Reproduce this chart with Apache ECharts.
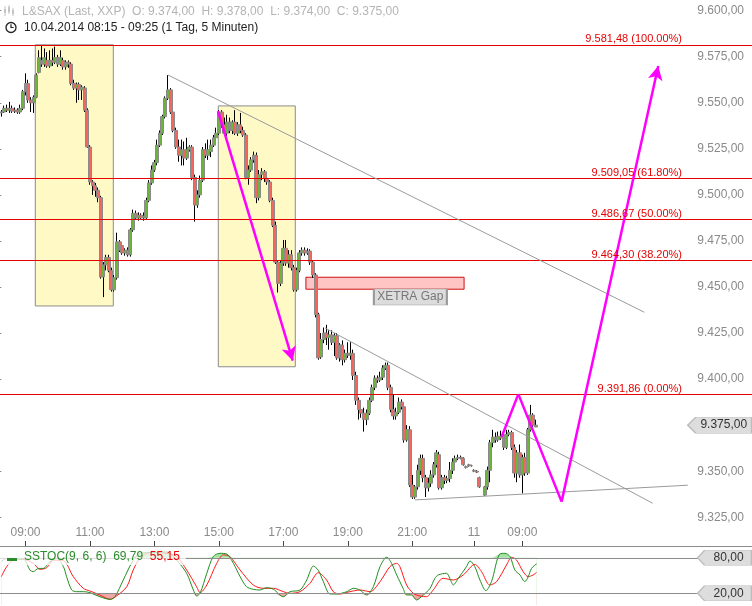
<!DOCTYPE html>
<html><head><meta charset="utf-8">
<script src="https://cdn.jsdelivr.net/npm/echarts@6/dist/echarts.min.js"></script>
<style>html,body{margin:0;padding:0;background:#fff}#c{width:752px;height:606px}</style>
</head><body><div id="c"></div>
<script>
// ---- data: one 5-minute candle per slot, [open, close, low, high] ----
const candles = [
[9544.5,9545,9542.5,9546],[9545,9547,9544.5,9548.5],[9547,9546,9545,9549],[9546,9547,9544.5,9550.5],[9547,9545.5,9544.5,9548.5],
[9545.5,9546,9544.5,9547.5],[9546,9545,9544,9547],[9545,9547,9544,9549],[9547,9556,9546,9557],[9556,9560.5,9554,9566],
[9560.5,9551.5,9550,9562.5],[9551.5,9550,9545,9553],[9550,9553,9544.5,9554],[9553,9565,9552.5,9566],[9566.5,9574.5,9566,9578.5],
[9573,9571,9569.5,9581],[9571,9574.5,9569.5,9579.5],[9573,9570,9569,9577.5],[9570,9573,9569,9578.5],[9573,9572,9570,9579.5],
[9572,9574.5,9571,9580.5],[9574.5,9571,9569.5,9576],[9571,9574.5,9570,9578.5],[9573,9569.5,9568,9574.5],[9569.5,9572,9568,9573],
[9572,9571,9569,9573],[9571,9560.5,9559.5,9572],[9560.5,9558,9557,9562.5],[9558,9560,9550,9561],[9560,9557,9551.5,9561],
[9557,9558.5,9551.5,9559.5],[9558,9546,9545,9559],[9546,9526,9525.5,9547],[9526,9507,9505.5,9527],[9507,9505,9500,9508],
[9505,9502.5,9499,9506.5],[9502.5,9498.5,9496,9504],[9498.5,9455.5,9454.5,9499.5],[9455.5,9462,9444.5,9463.5],[9462,9466,9459,9467.5],
[9466,9459,9458,9467.5],[9459,9448.5,9447.5,9460.5],[9448.5,9455,9447.5,9456.5],[9455,9474.5,9454,9479.5],[9474.5,9470,9469,9475.5],
[9472.5,9468.5,9467.5,9474],[9468.5,9470,9467,9471],[9470,9467.5,9466.5,9471.5],[9467.5,9481,9466.5,9482],[9481,9490,9480,9492],
[9490,9487.5,9486.5,9491.5],[9487.5,9489,9486,9490.5],[9489,9487.5,9486.5,9490],[9487.5,9488.5,9486,9490.5],[9487.5,9497,9486.5,9498.5],
[9497,9506.5,9496,9508],[9506.5,9513.5,9505.5,9516],[9513.5,9517.5,9512.5,9519],[9517.5,9527,9516,9530],[9527,9533.5,9526,9535],
[9533.5,9542.5,9532.5,9543.5],[9542.5,9552.5,9541.5,9553.5],[9552.5,9557,9551.5,9565],[9557,9545,9544,9558],[9545,9535,9534,9546],
[9535,9526,9525,9536.5],[9526,9521.5,9518,9530],[9521.5,9524.5,9516,9530],[9524.5,9520,9516,9529],[9520,9524.5,9519,9531],
[9524.5,9526,9523.5,9527],[9526,9509.5,9508,9527],[9509.5,9494.5,9485.5,9511],[9494.5,9500,9493,9502.5],[9500,9508,9498.5,9510.5],
[9508,9524.5,9507,9526],[9524.5,9521.5,9520,9528],[9521.5,9524.5,9519,9530],[9523.5,9527,9520.5,9530],[9527,9531,9526,9532.5],
[9531,9533.5,9530,9536.5],[9533.5,9545,9532.5,9546],[9545,9538,9536.5,9546],[9538,9533.5,9532.5,9542],[9533.5,9539.5,9532,9543.5],
[9539.5,9535,9533.5,9542],[9535,9539.5,9533,9540.5],[9539.5,9533.5,9532.5,9546],[9533.5,9538,9532,9539.5],[9538,9535,9533.5,9544.5],
[9535,9532.5,9531.5,9537],[9532.5,9509.5,9508.5,9533.5],[9509.5,9513.5,9505.5,9516],[9513.5,9519,9512.5,9520.5],[9519,9521.5,9517.5,9523.5],
[9521.5,9498.5,9495.5,9523],[9498.5,9511,9497,9513.5],[9511,9512.5,9508,9514.5],[9512.5,9509,9507,9513.5],[9509,9507,9505.5,9512.5],
[9507,9497,9496,9508],[9497,9483.5,9482.5,9498.5],[9483.5,9463.5,9462.5,9485.5],[9463.5,9452,9447,9464.5],[9452,9463,9450.5,9464.5],
[9463,9471,9461.5,9475.5],[9471,9463,9461.5,9475.5],[9463,9467.5,9460.5,9470],[9467.5,9460.5,9459,9470],[9460.5,9448.5,9447.5,9462],
[9448.5,9459,9447.5,9460.5],[9459,9468.5,9458,9470],[9468.5,9470,9467,9471.5],[9470,9468.5,9467,9471.5],[9468.5,9469.5,9467.5,9471],
[9469.5,9463.5,9462,9470.5],[9463.5,9456.5,9455,9464.5],[9456.5,9435,9433.5,9457.5],[9435,9411.5,9410.5,9436],[9412,9421.5,9411,9425],
[9421.5,9425,9419.5,9428],[9425,9422.5,9418.5,9429.5],[9422.5,9424,9416,9426.5],[9424,9420,9418.5,9426.5],[9420,9423.5,9412.5,9425],
[9423.5,9411.5,9410.5,9425],[9411.5,9418.5,9409.5,9419.5],[9418.5,9410.5,9407.5,9421],[9410.5,9414,9409,9416],[9414,9413,9411.5,9420],
[9413,9414,9410.5,9420],[9414,9402,9399.5,9416],[9402,9388.5,9386,9404],[9388.5,9383.5,9378,9390],[9383.5,9381.5,9379,9386],
[9381.5,9378,9371.5,9384.5],[9378,9381.5,9375,9383.5],[9381.5,9388.5,9380.5,9390],[9388.5,9395.5,9387.5,9397],[9395.5,9400.5,9394,9402],
[9400.5,9399.5,9398,9402],[9399.5,9401,9398.5,9404],[9401,9406,9399.5,9407.5],[9406,9407.5,9405,9409],[9407.5,9395.5,9394,9409],
[9395.5,9383.5,9382,9397],[9383.5,9380,9378,9391.5],[9380,9382,9378,9384.5],[9382,9387.5,9381,9390],[9387.5,9385,9383.5,9389],
[9385,9367,9365.5,9386.5],[9367,9372.5,9366,9375],[9372.5,9342.5,9341.5,9374.5],[9342.5,9336,9335,9348],[9336,9341.5,9335,9342.5],
[9341.5,9350.5,9340,9353.5],[9350.5,9357,9348,9359],[9357,9346.5,9344,9359],[9346.5,9341,9336,9348],[9341,9343.5,9339,9346.5],
[9343.5,9348,9341.5,9350.5],[9348,9353.5,9346.5,9355],[9353.5,9360,9352,9361.5],[9359,9341,9340,9360.5],[9341,9346.5,9340,9348],
[9346.5,9345,9343,9348],[9345,9346,9343.5,9347.5],[9346,9350.5,9344,9355],[9350.5,9355,9348.5,9357],[9355,9357,9353.5,9358.5],
[9357,9357.5,9356,9359],[9357.5,9357,9356.5,9358.5],[9357,9353.5,9353,9357.5],[9352.5,9352,9351.5,9353],[9353.5,9353,9352.5,9354],
[9353,9353,9352.5,9353.5],[9350.5,9350,9349.5,9351],[9350,9349.5,9349,9350.5],[9346.5,9341.5,9341,9347],null,
[9337,9341.5,9336.5,9342],[9341.5,9350.5,9340,9352.5],[9350.5,9365.5,9344,9367],[9365.5,9368.5,9363,9372.5],[9368.5,9367,9365.5,9371],
[9367,9369,9366,9371.5],[9369,9368,9367,9372],[9369.5,9363,9361.5,9371.5],[9363,9370,9362,9372.5],[9370,9371,9369,9372.5],
[9371,9363,9361.5,9372],[9363,9349,9346.5,9364.5],[9349,9360,9344,9361.5],[9360,9348,9346.5,9364.5],[9348,9357.5,9338,9359],
[9357.5,9349,9347.5,9360],[9349,9372.5,9348,9373.5],[9372.5,9380.5,9371.5,9386],[9380.5,9375,9374,9381.5],[9374,9375,9374,9378]
];
const xTickSlots  = [9, 33, 57, 81, 105, 129, 153, 176, 194];
const xTickLabels = ['09:00','11:00','13:00','15:00','17:00','19:00','21:00','11','09:00'];
const yTickValues = [9325, 9350, 9400, 9425, 9450, 9475, 9500, 9525, 9550, 9575, 9600];
const fibLevels   = [9581.48, 9509.05, 9486.67, 9464.30, 9391.86];
const fibPercents = ['100.00%', '61.80%', '50.00%', '38.20%', '0.00%'];
const lastPrice = 9375;
// slow stochastic (%K green, %D red), [slot, value]
const kLine = [[0,74],[2,79],[4.5,78],[8.2,77.5],[10.7,59],[11.9,56.5],[13.8,62],[15.6,62],[18.1,73.5],[20.6,79],[23.1,65],[24.3,48],[26.2,25.5],[28,22.6],[30.5,22.6],[33,21],[36.7,14],[40.5,9.6],[42.3,14],[45.4,42.4],[49.1,76],[51.6,87.6],[56.6,89],[61.6,90],[65.3,76],[69,53.7],[71.5,25.4],[72.7,15.3],[74,19.8],[76.5,53.7],[78.9,82],[81.4,87.6],[83.9,86.5],[86.4,70.6],[88.9,48],[91.3,31],[93.8,26.6],[96.3,25.4],[98.8,29.4],[101.3,26.6],[105,14],[107.5,22.6],[111.2,25.4],[113.7,42.4],[116.2,66],[118,59],[119.9,39.6],[122.4,18.6],[124.9,18.6],[128.6,22.6],[131.1,28.3],[133.5,25.4],[136,16.9],[138.5,31],[141,65],[143.5,81],[145.3,70.6],[147.2,50.9],[148.4,39.6],[149.6,28],[150.9,17],[152.7,17],[154.6,8.5],[157.1,17],[159.6,28],[161.4,45],[162.7,51],[165.8,53.7],[167,45],[168.3,34],[170.1,45],[173.2,65],[174.5,74.6],[176.3,65],[178.2,42.4],[180.4,24.3],[182.5,39.6],[185.6,86.5],[187.5,87.6],[189.4,82],[191.2,59.3],[193.1,51],[194.9,39.6],[196.2,48],[197.4,62],[199.3,69.79]];
const dLine = [[0,48],[2,65],[4.5,76],[8.2,77.5],[11.9,70.6],[14.4,60.4],[16.9,63.3],[19.4,76],[23.1,75],[26.8,48],[30.5,28.3],[33,23.7],[36.7,16.9],[40.5,9.6],[42.9,15.3],[46.7,31],[49.1,59.3],[51.6,79],[55.3,89],[61.6,87.6],[65.3,82],[69,59.3],[72.7,31],[74,20.9],[76.5,33.9],[80.2,70.6],[82.7,85],[85.1,82],[88.9,59.3],[93.8,33.9],[97.5,28.3],[101.3,28.3],[105,22.6],[107.5,19.8],[111.2,22.6],[114.9,36.7],[118,54.8],[121.1,42.4],[123.6,22.6],[126.1,18.6],[129.8,22.6],[133.5,25.4],[137.3,22.6],[141,39.6],[144.7,65],[147.2,70.6],[148.4,65],[150.9,33.9],[153.4,19.8],[155.8,15.3],[158.3,14.1],[160.8,25.4],[164.5,45.2],[168.3,42.4],[172,50.9],[176.3,68.9],[178.8,56.5],[181.9,33.9],[184.4,39.6],[188.1,67.8],[190,80.9],[191.8,76.3],[194.3,56.5],[196.2,48],[198,50.9],[199.3,55.15]];
const oscLevels = [80, 20];
const kLast = 69.79, dLast = 55.15;
// drawing annotations in data space [slot, price]
const yellowBoxes = [[[12.64, 9581.48], [41.69, 9439.7]], [[80.78, 9548.3], [109.45, 9406.7]]];
const gapZone = [[113.4, 9455.3], [172.3, 9448.8]];
const gapLabelAt = [152.3, 9444.6];
const trendLines = [[[62.05, 9565.1], [239.4, 9436.3]], [[120.5, 9427.8], [242.5, 9332.6]], [[154.0, 9334.4], [255.6, 9342.4]]];
const arrowDown = [[80.67, 9545.5], [108.5, 9410.0]];
const projection = [[186.3, 9368.7], [192.5, 9391.86], [208.6, 9333.5], [244.6, 9570]];
const tagSlot = 267.5, oscTagSlot = 269.3;

// ---- helpers ----
const de = v => { const p = v.toFixed(2).split('.'); return p[0].replace(/\B(?=(\d{3})+(?!\d))/g, '.') + ',' + p[1]; };
const FONT = '"Liberation Sans", Arial, sans-serif';
const wickData = [], bodyData = [];
candles.forEach((c, i) => {
  if (!c) return;
  wickData.push([i, c[0], c[1], c[2], c[3]]);
  bodyData.push([i, c[0], c[1], Math.min(c[0], c[1]), Math.max(c[0], c[1])]);
});
const X_MIN = -0.5, X_MAX = 279.5;
const MAGENTA = '#ff00ff';
const SMOOTH = 0.3;

const trendMarks = trendLines.map(l => [
  {coord: l[0], symbol: 'none', lineStyle: {color: '#9a9a9a', width: 1, type: 'solid'}},
  {coord: l[1], symbol: 'none'}
]);
const arrowMarks = [[
  {coord: arrowDown[0], symbol: 'none', lineStyle: {color: MAGENTA, width: 2.5, type: 'solid'}},
  {coord: arrowDown[1], symbol: 'arrow', symbolSize: [11, 14]}
]];
for (let i = 0; i < projection.length - 1; i++) {
  arrowMarks.push([
    {coord: projection[i], symbol: 'none', lineStyle: {color: MAGENTA, width: 2.5, type: 'solid'}},
    {coord: projection[i + 1], symbol: i === projection.length - 2 ? 'arrow' : 'none', symbolSize: [11, 14]}
  ]);
}

const tagPath = 'path://M0,8L8,0L64,0L64,16L8,16Z';
const oscTagPath = 'path://M0,7.5L7,0L54,0L54,15L7,15Z';
const oscArea = (data, color) => ({
  type: 'line', xAxisIndex: 1, yAxisIndex: 1, smooth: SMOOTH, symbol: 'none', silent: true,
  data: data, lineStyle: {width: 0, opacity: 0}, areaStyle: {color: color, opacity: 1, origin: 'start'}
});

const option = {
  animation: false,
  textStyle: {fontFamily: FONT},
  title: [
    {left: 22, top: 6, padding: 0,
     text: 'L&SAX (Last, XXP)  O: ' + de(9374) + '  H: ' + de(9378) + '  L: ' + de(9374) + '  C: ' + de(9375),
     textStyle: {fontSize: 12, color: '#b4b4b4', fontWeight: 'normal', fontFamily: FONT}},
    {left: 24, top: 22, padding: 0,
     text: '10.04.2014 08:15 - 09:25 (1 Tag, 5 Minuten)',
     textStyle: {fontSize: 12, color: '#222', fontWeight: 'normal', fontFamily: FONT}},
    {left: 0, top: 549, padding: [2, 6, 2, 24], backgroundColor: 'rgba(255,255,255,0.72)',
     text: '{g|SSTOC(9, 6, 6)  ' + kLast.toFixed(2).replace('.', ',') + '}  {r|' + dLast.toFixed(2).replace('.', ',') + '}',
     textStyle: {fontSize: 12, fontWeight: 'normal', rich: {
       g: {color: '#2a8c2a', fontSize: 12, fontFamily: FONT},
       r: {color: '#ee0000', fontSize: 12, fontFamily: FONT}}}}
  ],
  graphic: [
    {type: 'rect', z: 100, shape: {x: 7, y: 558, width: 10, height: 3}, style: {fill: '#2a8c2a'}},
    {type: 'circle', z: 100, shape: {cx: 11, cy: 27.5, r: 5}, style: {fill: 'none', stroke: '#222', lineWidth: 1.3}},
    {type: 'polyline', z: 100, shape: {points: [[11, 24.3], [11, 27.5], [13.6, 27.5]]}, style: {fill: 'none', stroke: '#222', lineWidth: 1.2}},
    {type: 'line', z: 100, shape: {x1: 5, y1: 6, x2: 5, y2: 16}, style: {stroke: '#c4c4c4', lineWidth: 1}},
    {type: 'rect', z: 100, shape: {x: 4, y: 9, width: 2, height: 4}, style: {fill: '#c4c4c4'}},
    {type: 'line', z: 100, shape: {x1: 9, y1: 5, x2: 9, y2: 14}, style: {stroke: '#c4c4c4', lineWidth: 1}},
    {type: 'rect', z: 100, shape: {x: 8, y: 7, width: 2, height: 5}, style: {fill: '#c4c4c4'}},
    {type: 'line', z: 100, shape: {x1: 13, y1: 8, x2: 13, y2: 16}, style: {stroke: '#c4c4c4', lineWidth: 1}},
    {type: 'rect', z: 100, shape: {x: 12, y: 10, width: 2, height: 4}, style: {fill: '#c4c4c4'}}
  ],
  grid: [
    {left: 0, right: 0, top: 0, height: 546},
    {left: 0, right: 0, top: 546, height: 59}
  ],
  xAxis: [
    {type: 'value', gridIndex: 0, min: X_MIN, max: X_MAX, position: 'bottom',
     axisLine: {show: true, onZero: false, lineStyle: {color: '#8c8c8c', width: 1}},
     axisTick: {show: true, inside: true, length: 5, customValues: xTickSlots, lineStyle: {color: '#444'}},
     axisLabel: {show: true, inside: true, margin: 7, customValues: xTickSlots, color: '#8a8a8a', fontSize: 12, fontFamily: FONT,
       formatter: v => { const i = xTickSlots.indexOf(v); return i >= 0 ? xTickLabels[i] : ''; }},
     splitLine: {show: false}},
    {type: 'value', gridIndex: 1, min: X_MIN, max: X_MAX, position: 'bottom',
     axisLine: {show: false, onZero: false},
     axisTick: {show: true, inside: true, length: 5, customValues: xTickSlots, lineStyle: {color: '#444'}},
     axisLabel: {show: false}, splitLine: {show: false}}
  ],
  yAxis: [
    {type: 'value', gridIndex: 0, position: 'right', min: 9309.4, max: 9605.8, scale: true,
     axisLine: {show: false},
     axisTick: {show: true, inside: true, length: 5, customValues: yTickValues, lineStyle: {color: '#888'}},
     axisLabel: {show: true, inside: true, margin: 8, customValues: yTickValues, color: '#8a8a8a', fontSize: 12, fontFamily: FONT,
       formatter: v => de(v)},
     splitLine: {show: false}},
    {type: 'value', gridIndex: 1, position: 'right', min: 0, max: 100,
     axisLine: {show: false}, axisTick: {show: false}, axisLabel: {show: false}, splitLine: {show: false}}
  ],
  series: [
    {type: 'candlestick', name: 'wicks', xAxisIndex: 0, yAxisIndex: 0, data: wickData,
     encode: {x: 0, y: [1, 2, 3, 4]}, barWidth: 1, silent: true,
     itemStyle: {color: '#000', color0: '#000', borderColor: '#000', borderColor0: '#000', borderColorDoji: '#000', borderWidth: 1},
     markArea: {silent: true, data: [
       [{coord: yellowBoxes[0][0], itemStyle: {color: '#fff9c6', borderColor: '#8c8c8c', borderWidth: 1}}, {coord: yellowBoxes[0][1]}],
       [{coord: yellowBoxes[1][0], itemStyle: {color: '#fff9c6', borderColor: '#8c8c8c', borderWidth: 1}}, {coord: yellowBoxes[1][1]}],
       [{coord: gapZone[0], itemStyle: {color: '#ffc4c4', borderColor: '#cc1111', borderWidth: 1}}, {coord: gapZone[1]}]
     ]},
     markLine: {silent: true, symbol: 'none',
       lineStyle: {color: '#e60000', width: 1, type: 'solid'},
       label: {show: true, position: 'insideEndTop', distance: [70, 0], color: '#e60000', fontSize: 11, fontFamily: FONT},
       data: fibLevels.map((v, i) => ({yAxis: v, label: {formatter: de(v) + ' (' + fibPercents[i] + ')'}}))}
    },
    {type: 'candlestick', name: 'bodies', xAxisIndex: 0, yAxisIndex: 0, data: bodyData,
     encode: {x: 0, y: [1, 2, 3, 4]}, barWidth: 3.5, silent: true,
     itemStyle: {color: '#6cb43c', color0: '#f2675f', borderColor: '#8a8a8a', borderColor0: '#8a8a8a', borderColorDoji: '#8a8a8a', borderWidth: 1},
     markLine: {silent: true, label: {show: false}, data: trendMarks.concat(arrowMarks)},
     markPoint: {silent: true, data: [
       {coord: gapLabelAt, symbol: 'rect', symbolSize: [73, 16],
        itemStyle: {color: '#dcdcdc', borderColor: '#9a9a9a', borderWidth: 1},
        label: {show: true, position: 'inside', formatter: 'XETRA Gap', color: '#777', fontSize: 12, fontFamily: FONT}},
       {coord: [tagSlot, lastPrice], symbol: tagPath, symbolSize: [64, 16], symbolKeepAspect: false,
        itemStyle: {color: '#dddddd', borderColor: '#bdbdbd', borderWidth: 1},
        label: {show: true, position: 'inside', offset: [4, 0], formatter: de(lastPrice), color: '#333', fontSize: 12, fontFamily: FONT}}
     ]}
    },
    // stochastic overbought / oversold fills (layered, lines drawn after)
    oscArea(kLine.map(p => [p[0], Math.max(p[1], 80)]), 'rgba(90,200,90,0.55)'),
    oscArea(kLine.map(p => [p[0], 80]), '#ffffff'),
    oscArea(kLine.map(p => [p[0], 20]), 'rgba(225,80,80,0.5)'),
    oscArea(kLine.map(p => [p[0], Math.min(p[1], 20)]), '#ffffff'),
    {type: 'line', name: '%D', xAxisIndex: 1, yAxisIndex: 1, smooth: SMOOTH, symbol: 'none', silent: true,
     data: dLine, lineStyle: {color: '#ff1a1a', width: 1}},
    {type: 'line', name: '%K', xAxisIndex: 1, yAxisIndex: 1, smooth: SMOOTH, symbol: 'none', silent: true,
     data: kLine, lineStyle: {color: '#1f8f1f', width: 1},
     markLine: {silent: true, symbol: 'none', label: {show: false},
       lineStyle: {color: '#8c8c8c', width: 1, type: 'solid'},
       data: oscLevels.map(v => ({yAxis: v}))},
     markPoint: {silent: true, data: oscLevels.map(v => ({
       coord: [oscTagSlot, v], symbol: oscTagPath, symbolSize: [54, 15], symbolKeepAspect: false,
       itemStyle: {color: '#dddddd', borderColor: '#bdbdbd', borderWidth: 1},
       label: {show: true, position: 'inside', offset: [4, 0], formatter: de(v), color: '#333', fontSize: 12, fontFamily: FONT}}))}
    }
  ]
};
const chart = echarts.init(document.getElementById('c'), null, {renderer: 'canvas'});
chart.setOption(option);
</script>
</body></html>
